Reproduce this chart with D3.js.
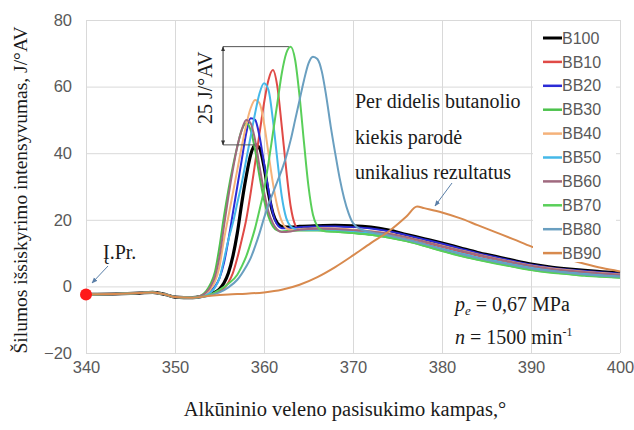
<!DOCTYPE html>
<html>
<head>
<meta charset="utf-8">
<script src="https://cdn.jsdelivr.net/npm/d3@7"></script>
<style>
  body { margin: 0; background: #fff; }
  svg { display: block; }
</style>
</head>
<body>
<div id="app"></div>
<script>
// Axis ticks
const angleTicks = [340, 350, 360, 370, 380, 390, 400];
const valueTicks = [-20, 0, 20, 40, 60, 80];

// Series names and colours
const seriesNames = ["B100", "BB10", "BB20", "BB30", "BB40", "BB50", "BB60", "BB70", "BB80", "BB90"];
const seriesColors = ["#000000", "#e04a46", "#2b2bd6", "#4cc24c", "#f5b27a", "#45b8e8", "#a0697f", "#59cf59", "#6a9fc0", "#d88a4e"];

// Shared flat start before ignition  [angle, value]
const baseline = [[340, -2.4], [344, -2.2], [346, -2.0], [347.5, -1.8], [349, -2.5], [350, -3.2], [352, -3.4]];

const B100 = [[353, -3.0], [354, -2.3], [355, -0.8], [355.5, 1], [356, 4], [356.5, 9], [357, 16], [357.5, 25], [358, 33], [358.5, 39.5], [359, 42.5], [359.5, 41.5], [360, 36], [360.5, 28], [361, 22], [361.5, 19], [362, 18], [363, 17.8], [364, 18], [366, 18.2], [368, 18.3], [370, 18.2], [372, 17.8], [374, 16.9], [376, 15.6], [378, 14.3], [380, 13], [382, 11.6], [384, 10.2], [386, 9], [388, 7.8], [390, 6.7], [392, 5.9], [394, 5.3], [396, 4.8], [398, 4.4], [400, 4]];
const BB10 = [[353, -3.0], [354, -2.4], [355, -1.5], [355.5, -0.5], [356, 1.2], [356.5, 4], [357, 8.5], [357.5, 14], [358, 20], [358.5, 28], [359, 37], [359.5, 46], [360, 55], [360.5, 62], [361, 65], [361.5, 60], [362, 48], [362.5, 35], [363, 24], [363.5, 18.5], [364, 17], [365, 17], [366, 17.3], [368, 17.2], [370, 16.8], [372, 16.3], [374, 15.5], [376, 14.4], [378, 13.1], [380, 11.8], [382, 10.5], [384, 9.2], [386, 8], [388, 7], [390, 6], [392, 5.2], [394, 4.6], [396, 4.1], [398, 3.7], [400, 3.4]];
const BB20 = [[353, -2.9], [353.5, -2.4], [354, -1.5], [354.5, 0], [355, 2.5], [355.5, 7], [356, 14], [356.5, 22], [357, 30], [357.5, 38], [358, 46], [358.5, 50.5], [359, 50], [359.5, 45], [360, 37], [360.5, 29], [361, 22], [361.5, 18.5], [362, 17.5], [363, 17.5], [364, 17.8], [366, 18], [368, 18], [370, 17.8], [372, 17.4], [374, 16.6], [376, 15.4], [378, 14.1], [380, 12.8], [382, 11.4], [384, 10], [386, 8.8], [388, 7.6], [390, 6.5], [392, 5.7], [394, 5.1], [396, 4.6], [398, 4.2], [400, 3.8]];
const BB30 = [[352.5, -3.1], [353, -2.6], [353.5, -1.4], [354, 0.8], [354.5, 4.5], [355, 12], [355.5, 21], [356, 29], [356.5, 36], [357, 42], [357.5, 47], [358, 49], [358.5, 47], [359, 41], [359.5, 33], [360, 26], [360.5, 21], [361, 18], [361.5, 16.8], [362, 16.5], [363, 16.7], [364, 16.8], [366, 16.8], [368, 16.5], [370, 16], [372, 15.5], [374, 14.7], [376, 13.6], [378, 12.2], [380, 10.7], [382, 9.3], [384, 8.1], [386, 7], [388, 6], [390, 5], [392, 4.3], [394, 3.8], [396, 3.4], [398, 3], [400, 2.7]];
const BB40 = [[353, -2.9], [353.5, -2.2], [354, -0.8], [354.5, 1.5], [355, 6], [355.5, 14], [356, 21], [356.5, 28], [357, 35], [357.5, 42], [358, 48.5], [358.5, 53.5], [359, 56], [359.5, 55], [360, 49], [360.5, 40], [361, 31], [361.5, 24], [362, 19.5], [362.5, 17.5], [363, 17], [364, 17.2], [366, 17.5], [368, 17.4], [370, 17], [372, 16.6], [374, 15.9], [376, 14.8], [378, 13.5], [380, 12.2], [382, 10.9], [384, 9.6], [386, 8.4], [388, 7.3], [390, 6.3], [392, 5.5], [394, 4.9], [396, 4.4], [398, 4], [400, 3.6]];
const BB50 = [[353, -3], [353.5, -2.6], [354, -1.8], [354.5, -0.3], [355, 2.5], [355.5, 8], [356, 14], [356.5, 19], [357, 25], [357.5, 31], [358, 38], [358.5, 45], [359, 52], [359.5, 58], [360, 61], [360.5, 59], [361, 50], [361.5, 38], [362, 27], [362.5, 20.5], [363, 18], [363.5, 17.2], [364, 17], [366, 17], [368, 16.8], [370, 16.4], [372, 15.9], [374, 15.1], [376, 14], [378, 12.7], [380, 11.3], [382, 10], [384, 8.7], [386, 7.6], [388, 6.6], [390, 5.6], [392, 4.9], [394, 4.3], [396, 3.8], [398, 3.4], [400, 3.1]];
const BB60 = [[352.5, -3.1], [353, -2.7], [353.5, -1.8], [354, 0], [354.5, 3], [355, 9], [355.5, 18], [356, 27], [356.5, 35], [357, 42], [357.5, 47], [358, 50], [358.5, 49], [359, 44], [359.5, 36], [360, 28.5], [360.5, 22.5], [361, 19], [361.5, 17], [362, 16.3], [363, 16.5], [364, 17], [366, 17.3], [368, 17.2], [370, 16.9], [372, 16.5], [374, 15.8], [376, 14.8], [378, 13.5], [380, 12.1], [382, 10.8], [384, 9.5], [386, 8.3], [388, 7.2], [390, 6.2], [392, 5.4], [394, 4.8], [396, 4.3], [398, 3.9], [400, 3.5]];
const BB70 = [[353, -3.1], [354, -2.5], [355, -1.0], [356, 0.8], [357, 3.5], [357.5, 6], [358, 9], [358.5, 13], [359, 17.5], [359.5, 23], [360, 29], [360.5, 37], [361, 46], [361.5, 55], [362, 64], [362.5, 70], [363, 72], [363.5, 68], [364, 57], [364.5, 43], [365, 30], [365.5, 21.5], [366, 18], [366.5, 16.8], [367, 16.5], [368, 16.4], [370, 16], [372, 15.5], [374, 14.7], [376, 13.6], [378, 12.2], [380, 10.6], [382, 9.2], [384, 8], [386, 6.9], [388, 5.9], [390, 4.9], [392, 4.2], [394, 3.7], [396, 3.2], [398, 2.9], [400, 2.6]];
const BB80 = [[353, -3.2], [354, -2.7], [355, -1.8], [356, -0.3], [357, 2], [358, 6], [358.5, 8.5], [359, 12], [359.5, 16], [360, 20.5], [360.5, 24.5], [361, 28], [361.5, 31.5], [362, 35], [362.5, 39], [363, 44], [363.5, 50], [364, 56], [364.5, 62], [365, 67], [365.5, 69], [366, 68.3], [366.5, 64.5], [367, 57], [367.5, 48], [368, 40], [368.5, 32.5], [369, 26.5], [369.5, 22], [370, 19], [371, 17], [372, 16.3], [374, 15.3], [376, 14.1], [378, 12.7], [380, 11.2], [382, 9.8], [384, 8.5], [386, 7.4], [388, 6.4], [390, 5.4], [392, 4.7], [394, 4.1], [396, 3.6], [398, 3.2], [400, 2.9]];
const BB90 = [[354, -2.8], [356, -2.4], [358, -2.2], [360, -1.8], [362, -1], [364, 0.5], [366, 2.8], [368, 5.8], [370, 9.3], [372, 13], [374, 16.5], [376, 21], [377.2, 24], [378, 23.5], [380, 22.2], [382, 20.5], [384, 18.4], [386, 16.3], [388, 14.2], [390, 12], [392, 10], [394, 8.3], [396, 6.8], [398, 5.5], [400, 4.5]];

const seriesValues = [B100, BB10, BB20, BB30, BB40, BB50, BB60, BB70, BB80, BB90];

// Chart size
const width = 634;
const height = 430;
const plotLeft = 86, plotRight = 620, plotTop = 20, plotBottom = 353;

const xScale = d3.scaleLinear().domain([340, 400]).range([plotLeft, plotRight]);
const yScale = d3.scaleLinear().domain([-20, 80]).range([plotBottom, plotTop]);

const svg = d3.select("#app")
  .append("svg")
  .attr("width", width)
  .attr("height", height);

// Gridlines + tick labels
const xAxis = d3.axisBottom(xScale)
  .tickValues(angleTicks)
  .tickSize(-(plotBottom - plotTop))
  .tickPadding(8)
  .tickFormat(d3.format("d"));

const yAxis = d3.axisLeft(yScale)
  .tickValues(valueTicks)
  .tickSize(-(plotRight - plotLeft))
  .tickPadding(14)
  .tickFormat(d3.format("d"));

const gx = svg.append("g")
  .attr("transform", `translate(0, ${plotBottom})`)
  .call(xAxis);
const gy = svg.append("g")
  .attr("transform", `translate(${plotLeft}, 0)`)
  .call(yAxis);

[gx, gy].forEach(g => {
  g.select(".domain").remove();
  g.selectAll(".tick line").attr("stroke", "#d9d9d9").attr("stroke-width", 1);
  g.selectAll(".tick text")
    .attr("fill", "#595959")
    .style("font-family", "'Liberation Sans', Arial, sans-serif")
    .style("font-size", "16.5px");
});

// Curves, in series order so BB90 lies on top
const line = d3.line()
  .x(d => xScale(d[0]))
  .y(d => yScale(d[1]))
  .curve(d3.curveMonotoneX);

seriesValues.forEach((vals, i) => {
  svg.append("path")
    .datum(baseline.concat(vals))
    .attr("fill", "none")
    .attr("stroke", seriesColors[i])
    .attr("stroke-width", i === 0 ? 3.2 : 2)
    .attr("stroke-linejoin", "round")
    .attr("d", line);
});

// Start point marker
svg.append("circle")
  .attr("cx", xScale(baseline[0][0]))
  .attr("cy", yScale(baseline[0][1]))
  .attr("r", 6)
  .attr("fill", "#ff1a1a");

// Legend
const legend = svg.append("g");
legend.append("rect")
  .attr("x", 533).attr("y", 26)
  .attr("width", 83).attr("height", 236)
  .attr("fill", "#fff");

seriesNames.forEach((name, i) => {
  const y = 38 + i * 23.9;
  legend.append("line")
    .attr("x1", 543).attr("x2", 562)
    .attr("y1", y).attr("y2", y)
    .attr("stroke", seriesColors[i])
    .attr("stroke-width", i === 0 ? 3 : 2.5);
  legend.append("text")
    .attr("x", 562).attr("y", y)
    .attr("dy", "0.35em")
    .attr("fill", "#595959")
    .style("font-family", "'Liberation Sans', Arial, sans-serif")
    .style("font-size", "16px")
    .text(name);
});

// Arrow markers
const defs = svg.append("defs");
defs.append("marker")
  .attr("id", "arrow")
  .attr("viewBox", "0 0 10 10")
  .attr("refX", 9).attr("refY", 5)
  .attr("markerWidth", 6).attr("markerHeight", 6)
  .attr("orient", "auto-start-reverse")
  .append("path")
  .attr("d", "M0,1 L10,5 L0,9 z")
  .attr("fill", "#5a7fa8");

defs.append("marker")
  .attr("id", "dim")
  .attr("viewBox", "0 0 10 10")
  .attr("refX", 9).attr("refY", 5)
  .attr("markerWidth", 5).attr("markerHeight", 5)
  .attr("orient", "auto-start-reverse")
  .append("path")
  .attr("d", "M0,1 L10,5 L0,9 z")
  .attr("fill", "#333");

const serif = "'Liberation Serif', 'Times New Roman', serif";

// Dimension for 25 J/°AV
const dimX = 355.4;
svg.append("line")
  .attr("x1", xScale(dimX)).attr("x2", xScale(362.8))
  .attr("y1", yScale(72)).attr("y2", yScale(72))
  .attr("stroke", "#555").attr("stroke-width", 1);
svg.append("line")
  .attr("x1", xScale(dimX)).attr("x2", xScale(359))
  .attr("y1", yScale(42.5)).attr("y2", yScale(42.5))
  .attr("stroke", "#555").attr("stroke-width", 1);
svg.append("line")
  .attr("x1", xScale(dimX)).attr("x2", xScale(dimX))
  .attr("y1", yScale(72)).attr("y2", yScale(42.5))
  .attr("stroke", "#333").attr("stroke-width", 1)
  .attr("marker-start", "url(#dim)")
  .attr("marker-end", "url(#dim)");
svg.append("text")
  .attr("transform", `translate(${xScale(dimX) - 11}, ${(yScale(72) + yScale(42.5)) / 2 - 8}) rotate(-90)`)
  .attr("text-anchor", "middle")
  .attr("fill", "#1a1a1a")
  .style("font-family", serif)
  .style("font-size", "20px")
  .text("25 J/°AV");

// Annotation: unique results
const note = svg.append("text")
  .attr("fill", "#1a1a1a")
  .style("font-family", serif)
  .style("font-size", "20px");
["Per didelis butanolio", "kiekis parodė", "unikalius rezultatus"].forEach((t, i) => {
  note.append("tspan").attr("x", 355).attr("y", 108 + i * 35.5).text(t);
});
svg.append("line")
  .attr("x1", 452).attr("y1", 183)
  .attr("x2", 435).attr("y2", 206)
  .attr("stroke", "#5a7fa8").attr("stroke-width", 1)
  .attr("marker-end", "url(#arrow)");

// Ignition start label
svg.append("text")
  .attr("x", 103).attr("y", 259)
  .attr("fill", "#1a1a1a")
  .style("font-family", serif)
  .style("font-size", "20px")
  .text("Į.Pr.");
svg.append("line")
  .attr("x1", 108).attr("y1", 266)
  .attr("x2", 92).attr("y2", 283)
  .attr("stroke", "#5a7fa8").attr("stroke-width", 1)
  .attr("marker-end", "url(#arrow)");

// Operating conditions
const cond1 = svg.append("text")
  .attr("x", 455).attr("y", 311)
  .attr("fill", "#1a1a1a")
  .style("font-family", serif)
  .style("font-size", "20px");
cond1.append("tspan").style("font-style", "italic").text("p");
cond1.append("tspan").style("font-style", "italic").style("font-size", "13px").attr("dy", 4).text("e");
cond1.append("tspan").attr("dy", -4).text(" = 0,67 MPa");

const cond2 = svg.append("text")
  .attr("x", 455).attr("y", 344)
  .attr("fill", "#1a1a1a")
  .style("font-family", serif)
  .style("font-size", "20px");
cond2.append("tspan").style("font-style", "italic").text("n");
cond2.append("tspan").text(" = 1500 min");
cond2.append("tspan").style("font-size", "12px").attr("dy", -8).text("-1");

// Axis titles
svg.append("text")
  .attr("x", 345).attr("y", 416)
  .attr("text-anchor", "middle")
  .attr("fill", "#1a1a1a")
  .style("font-family", serif)
  .style("font-size", "20.5px")
  .text("Alkūninio veleno pasisukimo kampas,°");

svg.append("text")
  .attr("transform", "translate(27, 190) rotate(-90)")
  .attr("text-anchor", "middle")
  .attr("fill", "#1a1a1a")
  .style("font-family", serif)
  .style("font-size", "19.5px")
  .text("Šilumos išsiskyrimo intensyvumas, J/°AV");
</script>
</body>
</html>
